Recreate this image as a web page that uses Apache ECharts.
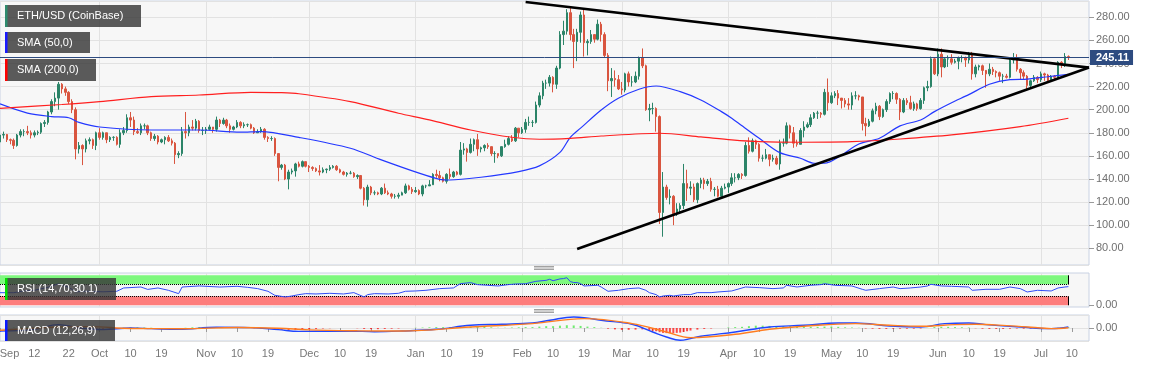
<!DOCTYPE html>
<html><head><meta charset="utf-8">
<script src="https://cdn.jsdelivr.net/npm/echarts@6.0.0/dist/echarts.min.js"></script>
<style>html,body{margin:0;padding:0;background:#fff;}#c{width:1153px;height:367px;}</style>
</head><body><div id="c"></div>
<script>
// ---------- axis domain ----------
const firstDay = '2019-09-02', lastAxisDay = '2020-07-15';
const categories = (function(){const out=[];let t=Date.parse(firstDay+'T00:00:00Z');const e=Date.parse(lastAxisDay+'T00:00:00Z');while(t<=e){out.push(new Date(t).toISOString().slice(0,10));t+=86400000;}return out;})();

const xTickDates = ['2019-09-02','2019-09-12','2019-09-22','2019-10-01','2019-10-10','2019-10-19','2019-11-01','2019-11-10','2019-11-19','2019-12-01','2019-12-10','2019-12-19','2020-01-01','2020-01-10','2020-01-19','2020-02-01','2020-02-10','2020-02-19','2020-03-01','2020-03-10','2020-03-19','2020-04-01','2020-04-10','2020-04-19','2020-05-01','2020-05-10','2020-05-19','2020-06-01','2020-06-10','2020-06-19','2020-07-01','2020-07-10'];
const xTickLabels = ['Sep','12','22','Oct','10','19','Nov','10','19','Dec','10','19','Jan','10','19','Feb','10','19','Mar','10','19','Apr','10','19','May','10','19','Jun','10','19','Jul','10'];
const lastPrice = 245.11;

// ---------- daily candles [open, close, low, high] ----------
const sep19 = [[172,178,171,179],[178,178.5,175,181],[178.5,174,172,179],[174,173.5,170,175],[173.5,169,166,175],[169,178,168,179],[178,181,176,183],[181,181,177,183],[181,180,178,186],[180,178,175,182],[178,180,176,182],[180,180.5,178,182],[180.5,188,179,189],[188,189,185,191],[189,198,187,199],[198,207,196,209],[207,210,203,215],[210,222,200,224],[222,218,214,223],[218,215,212,220],[215,207,205,216],[207,200,197,209],[200,166,157,202],[166,169,162,172],[169,166,152,170],[166,173,163,175],[173,174,170,176],[174,169,166,175],[169,180,165,181]];
const oct19 = [[180,176,174,184],[176,180,174,181],[180,174,171,180],[174,176,172,177],[176,176,173,177],[176,170,169,177],[170,180,167,183],[180,182,178,185],[182,193,180,196],[193,191,185,198],[191,181,178,194],[181,180,179,184],[180,186,178,188],[186,186,183,188],[186,180,178,187],[180,175,173,181],[175,177,173,179],[177,172,170,178],[172,174,171,175],[174,176,170,177],[176,173,172,178],[173,171,169,175],[171,161,153,172],[161,162,158,164],[162,181,160,185],[181,180,175,198],[180,185,177,187],[185,184,182,191],[184,190,182,192],[190,182,180,191],[182,182,178,185]];
const nov19 = [[182,183,179,185],[183,185,182,187],[185,183,180,185],[183,191,181,194],[191,188,185,192],[188,191,187,193],[191,186,184,192],[186,183,180,188],[183,185,182,186],[185,189,184,191],[189,186,184,190],[186,187,184,189],[187,187,185,188],[187,184,183,188],[184,180,179,185],[180,181,180,183],[181,183,180,185],[183,176,174,184],[176,175,172,177],[175,175,173,177],[175,162,160,176],[162,150,138,162],[150,152,148,153],[152,140,139,153],[140,146,131,148],[146,147,144,149],[147,153,142,154],[153,151,150,155],[151,155,150,156],[155,151,150,155]];
const dec19 = [[151,150,146,152],[150,149,147,151],[149,147,146,150],[147,146,143,152],[146,148,145,150],[148,148.5,145,149],[148.5,150,147,152],[150,151,149,152],[151,148,147,152],[148,146,145,149],[146,144,143,147],[144,145,142,146],[145,145,144,147],[145,142,141,146],[142,143,140,144],[143,132,131,143],[132,122,117,133],[122,133,116,135],[133,128,126,134],[128,128,126,130],[128,127,126,129],[127,132,126,133],[132,128,127,136],[128,127,126,130],[127,125,123,128],[125,125,123,127],[125,126,123,128],[126,128,126,129],[128,134,127,136],[134,131,130,135],[131,129,127,133]];
const jan20 = [[129,130,128,133],[130,127,126,131],[127,134,125,135],[134,134,132,135],[134,135,134,139],[135,144,135,145],[144,143,141,148],[143,141,138,147],[141,138,137,142],[138,144,136,145],[144,142,140,149],[142,146,141,147],[146,144,143,147],[144,165,143,172],[165,166,161,171],[166,163,155,167],[163,170,162,175],[170,174,164,175],[174,166,160,179],[166,167,163,168],[167,169,164,170],[169,168,166,171],[168,162,160,168],[162,162,154,164],[162,160,158,162],[160,168,159,168],[168,170,167,174],[170,175,169,177],[175,173,172,178],[173,184,172,185],[184,180,176,184]];
const feb20 = [[180,183,179,185],[183,189,180,192],[189,189,186,194],[189,189,185,191],[189,204,188,207],[204,212,202,215],[212,223,209,225],[223,223,218,226],[223,228,220,230],[228,222,215,229],[222,236,218,238],[236,265,235,268],[265,268,256,277],[268,284,265,287],[284,265,260,288],[265,259,236,270],[259,267,242,270],[267,282,258,285],[282,258,246,287],[258,259,247,261],[259,265,257,269],[265,261,258,265],[261,274,260,278],[274,265,259,276],[265,247,245,267],[247,225,216,249],[225,227,211,236],[227,226,220,234],[226,218,217,230]];
const mar20 = [[218,217,213,224],[217,231,215,232],[231,224,220,233],[224,224,220,229],[224,229,223,233],[229,245,226,246],[245,238,236,253],[238,200,199,239],[200,201,190,205],[201,201,196,206],[201,194,181,202],[194,111,101,195],[111,133,90,146],[133,124,122,135],[124,125,118,131],[125,110,100,126],[110,114,108,119],[114,117,110,119],[117,136,114,153],[136,132,121,148],[132,133,126,138],[133,122,120,136],[122,136,119,137],[136,139,132,141],[139,136,131,141],[136,138,134,140],[138,131,129,141],[131,131,125,133],[131,125,124,134],[125,132,124,134],[132,133,131,136]];
const apr20 = [[133,136,128,137],[136,141,134,145],[141,141,137,145],[141,144,139,145],[144,143,140,145],[143,169,142,172],[169,164,162,176],[164,173,163,175],[173,170,166,174],[170,158,155,171],[158,158,155,161],[158,161,157,166],[161,157,151,161],[157,158,155,161],[158,153,152,160],[153,171,148,174],[171,171,168,175],[171,186,170,189],[186,180,175,187],[180,171,167,185],[171,170,168,174],[170,182,170,184],[182,185,176,190],[185,187,184,189],[187,193,185,196],[193,197,192,198],[197,197,192,199],[197,196,193,198],[196,215,195,218],[215,206,199,227]];
const may20 = [[206,212,205,215],[212,214,210,216],[214,210,204,217],[210,208,201,210],[208,205,202,210],[205,204,200,210],[204,212,200,215],[212,212,209,216],[212,211,208,213],[211,188,182,211],[188,186,177,193],[186,190,185,192],[190,199,189,201],[199,203,196,206],[203,194,191,204],[194,200,193,201],[200,207,198,209],[207,214,205,215],[214,214,209,216],[214,209,205,215],[209,198,191,210],[198,208,197,210],[208,206,204,210],[206,201,200,212],[201,205,199,207],[205,201,199,206],[201,208,200,210],[208,219,205,220],[219,220,216,225],[220,244,219,246],[244,231,230,245]];
const jun20 = [[231,248,229,253],[248,237,228,253],[237,244,236,245],[244,244,237,247],[244,241,239,248],[241,242,240,244],[242,245,235,246],[245,245,241,247],[245,243,237,246],[243,248,240,250],[248,231,226,250],[231,237,228,239],[237,238,234,239],[238,234,230,239],[234,231,219,233],[231,235,229,240],[235,233,230,237],[233,232,228,234],[232,229,225,233],[229,229,223,231],[229,228,227,231],[228,243,227,244],[243,244,240,249],[244,235,233,248],[235,232,226,236],[232,229,226,234],[229,221,218,230],[221,225,218,226],[225,228,224,230],[228,226,223,229]];
const jul20 = [[226,231,224,233],[231,230,225,232],[230,225,224,231],[225,229,224,230],[229,228,225,230],[228,241,227,242],[241,239,236,242],[239,246,237,249],[246,245.11,243,247]];

// ---------- moving averages ----------
const sma50 = [['2019-09-02',205],['2019-09-10',197],['2019-09-17',194],['2019-09-22',193],['2019-09-25',189],['2019-10-01',185],['2019-10-16',182.4],['2019-10-30',182.4],['2019-11-11',180.5],['2019-11-17',181],['2019-11-28',176],['2019-12-13',166.6],['2019-12-22',156.5],['2020-01-02',145],['2020-01-08',139.7],['2020-01-11',139.1],['2020-01-20',141.5],['2020-01-31',146.4],['2020-02-06',151.3],['2020-02-12',163],['2020-02-15',176],['2020-02-18',184],['2020-02-24',199.7],['2020-02-29',209.9],['2020-03-06',217.7],['2020-03-11',220.5],['2020-03-18',215.6],['2020-03-24',208.4],['2020-03-30',198.3],['2020-04-02',192.6],['2020-04-05',186],['2020-04-10',175.2],['2020-04-16',162.8],['2020-04-22',157.9],['2020-04-26',153.6],['2020-04-29',153.6],['2020-05-04',160.7],['2020-05-09',170.3],['2020-05-15',175.2],['2020-05-21',186],['2020-05-27',191.1],['2020-05-31',198.3],['2020-06-05',206],['2020-06-10',213],['2020-06-16',222],['2020-06-22',226],['2020-06-27',226.5],['2020-07-03',228.5],['2020-07-09',230.6]];
const sma200 = [['2019-09-02',201.2],['2019-09-20',204.5],['2019-10-01',207],['2019-10-16',211.3],['2019-10-30',212.7],['2019-11-14',215],['2019-11-23',214.7],['2019-11-28',213.8],['2019-12-13',207],['2019-12-27',196.9],['2020-01-05',191.1],['2020-01-17',182.4],['2020-01-29',176.1],['2020-02-06',174.4],['2020-02-15',175.2],['2020-02-24',177.2],['2020-03-12',179.6],['2020-03-24',176.4],['2020-04-02',173.8],['2020-04-10',172.3],['2020-04-22',171.8],['2020-05-07',172.3],['2020-05-21',174.6],['2020-06-05',178.1],['2020-06-25',185.3],['2020-07-09',192.6]];

// ---------- trend lines ----------
const upperTrend = [['2020-02-02',293.2],['2020-07-15',236.4]];
const lowerTrend = [['2020-02-17',79.4],['2020-07-15',236.5]];

// ---------- RSI ----------
const rsiLevels = {top:100, upper:70, lower:30, bottom:0};
const rsi = [['2019-09-02',42],['2019-09-06',42],['2019-09-09',48],['2019-09-12',50],['2019-09-16',60],['2019-09-19',72],['2019-09-22',60],['2019-09-24',45],['2019-09-27',47],['2019-10-02',45],['2019-10-06',46.7],['2019-10-08',57.8],['2019-10-13',61],['2019-10-15',53],['2019-10-18',57.8],['2019-10-21',50],['2019-10-24',38.9],['2019-10-25',61],['2019-10-30',64.4],['2019-11-05',61],['2019-11-10',63.3],['2019-11-13',60],['2019-11-16',55.6],['2019-11-19',46.7],['2019-11-21',33.3],['2019-11-24',27.8],['2019-11-26',31],['2019-11-28',35.6],['2019-11-30',38.9],['2019-12-03',37.8],['2019-12-07',40],['2019-12-11',37.8],['2019-12-14',42.2],['2019-12-17',27.8],['2019-12-18',35.6],['2019-12-20',38.9],['2019-12-24',37.8],['2019-12-27',40],['2019-12-29',46.7],['2020-01-01',47.8],['2020-01-04',50],['2020-01-08',55.6],['2020-01-12',57.8],['2020-01-14',72.2],['2020-01-17',75.6],['2020-01-19',68.9],['2020-01-22',66.7],['2020-01-25',64.4],['2020-01-28',68.9],['2020-01-30',71],['2020-02-02',72],['2020-02-05',80],['2020-02-08',83.3],['2020-02-09',86.7],['2020-02-10',82],['2020-02-12',88],['2020-02-13',89],['2020-02-14',92],['2020-02-15',79],['2020-02-16',76],['2020-02-17',75.6],['2020-02-18',72.2],['2020-02-19',64.4],['2020-02-23',66.7],['2020-02-24',61],['2020-02-26',46.7],['2020-02-29',50],['2020-03-03',55.6],['2020-03-06',57.8],['2020-03-08',50],['2020-03-09',42.2],['2020-03-11',35.6],['2020-03-12',27.8],['2020-03-13',31],['2020-03-15',33.3],['2020-03-16',31],['2020-03-19',35.6],['2020-03-21',35.6],['2020-03-23',42.2],['2020-03-27',42.2],['2020-03-29',44.4],['2020-04-02',47.8],['2020-04-06',61],['2020-04-10',58.9],['2020-04-14',55.6],['2020-04-17',57.8],['2020-04-18',66.7],['2020-04-21',61],['2020-04-25',66.7],['2020-04-28',68.9],['2020-04-29',72.2],['2020-05-02',66.7],['2020-05-07',64.4],['2020-05-10',53.3],['2020-05-11',50],['2020-05-15',55.6],['2020-05-19',61],['2020-05-21',55.6],['2020-05-24',57.8],['2020-05-27',61],['2020-05-29',64.4],['2020-05-30',70],['2020-06-02',64.4],['2020-06-05',63.3],['2020-06-10',61],['2020-06-11',50],['2020-06-15',53.3],['2020-06-19',53.3],['2020-06-22',61],['2020-06-25',55.6],['2020-06-27',44.4],['2020-06-30',50],['2020-07-04',47.8],['2020-07-06',57.8],['2020-07-08',61],['2020-07-09',62.2]];

// ---------- MACD (12,26,9) ----------
const macdLine = [['2019-09-02',-6.5],['2019-09-12',-2.8],['2019-09-19',7.3],['2019-09-25',0.5],['2019-10-02',-3.5],['2019-10-10',0],['2019-10-16',-1.4],['2019-10-24',-3],['2019-11-04',1.5],['2019-11-14',0.8],['2019-11-22',-3.5],['2019-11-28',-7.2],['2019-12-13',-6.5],['2019-12-20',-8],['2019-12-28',-6.5],['2020-01-07',-2.8],['2020-01-17',5.8],['2020-01-26',8],['2020-02-04',10.8],['2020-02-09',16.6],['2020-02-16',23.7],['2020-02-19',22.4],['2020-02-24',16.6],['2020-03-04',8],['2020-03-10',-8.6],['2020-03-14',-19.4],['2020-03-18',-26.5],['2020-03-21',-22.8],['2020-03-24',-17.9],['2020-04-03',-8.6],['2020-04-13',2.2],['2020-04-23',5.8],['2020-05-03',10.8],['2020-05-08',10.8],['2020-05-18',4.3],['2020-05-27',2.2],['2020-06-03',9.5],['2020-06-10',10.8],['2020-06-15',7.3],['2020-06-25',2.2],['2020-07-04',-1.4],['2020-07-09',2.2]];
const signalLine = [['2019-09-02',-5],['2019-09-19',2],['2019-09-28',3],['2019-10-10',-1],['2019-10-25',-1.5],['2019-11-10',1],['2019-11-22',-0.5],['2019-12-01',-4],['2019-12-15',-6],['2019-12-28',-6.5],['2020-01-17',2.2],['2020-02-04',9.5],['2020-02-19',20.3],['2020-03-04',9.5],['2020-03-14',-8.6],['2020-03-21',-20.7],['2020-04-03',-13.6],['2020-04-13',-2.8],['2020-04-23',3.7],['2020-05-08',9.5],['2020-05-18',5.8],['2020-05-27',3.7],['2020-06-06',7.3],['2020-06-12',8],['2020-06-21',5.1],['2020-07-01',0],['2020-07-04',-1.4],['2020-07-09',0.6]];
const macdHist = [['2019-09-04',1],['2019-09-06',1],['2019-09-08',1.5],['2019-09-10',2],['2019-09-12',2],['2019-09-14',3],['2019-09-16',3.5],['2019-09-18',4],['2019-09-20',4],['2019-09-22',2],['2019-09-24',-1],['2019-09-26',-2],['2019-09-28',-2.5],['2019-09-30',-2],['2019-10-02',-1.5],['2019-10-04',-1],['2019-10-06',-0.5],['2019-10-08',0.5],['2019-10-10',1.5],['2019-10-12',1.5],['2019-10-14',1],['2019-10-16',0.5],['2019-10-18',-0.5],['2019-10-20',-1],['2019-10-22',-1],['2019-10-24',-1.5],['2019-10-26',0.5],['2019-10-28',1.5],['2019-10-30',2],['2019-11-01',2],['2019-11-03',2],['2019-11-05',2],['2019-11-07',1.5],['2019-11-09',1],['2019-11-11',0.5],['2019-11-15',-0.5],['2019-11-17',-1],['2019-11-19',-1.5],['2019-11-21',-2.5],['2019-11-23',-4],['2019-11-25',-5],['2019-11-27',-4.5],['2019-11-29',-3.5],['2019-12-01',-2.5],['2019-12-03',-2],['2019-12-05',-1],['2019-12-07',-0.5],['2019-12-15',-0.5],['2019-12-17',-2],['2019-12-19',-2.5],['2019-12-21',-2.5],['2019-12-23',-2],['2019-12-25',-1.5],['2019-12-27',-1],['2020-01-01',0.5],['2020-01-03',1],['2020-01-05',1.5],['2020-01-07',2],['2020-01-09',2],['2020-01-11',2],['2020-01-13',2],['2020-01-15',3],['2020-01-17',3],['2020-01-19',3],['2020-01-21',2.5],['2020-01-23',1.5],['2020-01-25',0.5],['2020-01-27',0.5],['2020-01-29',1],['2020-01-31',1.5],['2020-02-02',2],['2020-02-04',2],['2020-02-06',3],['2020-02-08',4],['2020-02-10',4],['2020-02-12',5],['2020-02-14',6],['2020-02-16',5.5],['2020-02-18',4.5],['2020-02-20',3],['2020-02-22',2],['2020-02-24',0.5],['2020-02-26',-1.5],['2020-02-28',-3],['2020-03-01',-4],['2020-03-03',-4],['2020-03-05',-3.5],['2020-03-07',-3],['2020-03-09',-5],['2020-03-10',-6],['2020-03-11',-7],['2020-03-12',-9],['2020-03-13',-10.5],['2020-03-14',-11],['2020-03-15',-11],['2020-03-16',-11],['2020-03-17',-10.5],['2020-03-18',-10],['2020-03-19',-8.5],['2020-03-20',-7],['2020-03-21',-5.5],['2020-03-23',-3.5],['2020-03-25',-2],['2020-03-27',-1],['2020-04-01',1],['2020-04-03',2],['2020-04-05',2.5],['2020-04-07',4],['2020-04-09',5],['2020-04-11',5],['2020-04-13',4.5],['2020-04-15',4],['2020-04-17',4],['2020-04-19',4],['2020-04-21',3],['2020-04-23',2.5],['2020-04-25',2.5],['2020-04-27',2.5],['2020-04-29',3],['2020-05-01',3],['2020-05-03',2.5],['2020-05-05',1.5],['2020-05-07',1],['2020-05-09',0.5],['2020-05-11',-1],['2020-05-13',-1.5],['2020-05-15',-2],['2020-05-17',-2],['2020-05-19',-1.5],['2020-05-21',-1.5],['2020-05-23',-1.5],['2020-05-25',-1.5],['2020-05-27',-1],['2020-05-29',0.5],['2020-05-31',2],['2020-06-02',2.5],['2020-06-04',2.5],['2020-06-06',2],['2020-06-08',1.5],['2020-06-10',1],['2020-06-12',-0.5],['2020-06-14',-1.5],['2020-06-16',-2],['2020-06-18',-2],['2020-06-20',-2],['2020-06-22',-1.5],['2020-06-24',-1],['2020-06-26',-1.5],['2020-06-28',-1.5],['2020-06-30',-1],['2020-07-02',-0.5],['2020-07-06',0.5],['2020-07-08',1],['2020-07-09',1.5]];

// ---------- build ----------
const candles = [].concat(sep19,oct19,nov19,dec19,jan20,feb20,mar20,apr20,may20,jun20,jul20);
const lastCandleDay = categories[candles.length-1];
const tickSet = new Set(xTickDates);
const labelOf = {}; xTickDates.forEach((d,i)=>labelOf[d]=xTickLabels[i]);
const isTick = (i,v)=>tickSet.has(v);
const isMonthStart = (i,v)=>v.slice(8)==='01';

const UP='#2b8468', DOWN='#d9553f';
const FONT='"Liberation Sans", Arial, sans-serif';
const gridBase = {left:0, right:64, show:true, backgroundColor:'#f7f7f7', borderColor:'#c9d2e3', borderWidth:1, containLabel:false, outerBoundsMode:'none'};

function xAx(i){
  return {type:'category', gridIndex:i, data:categories, boundaryGap:false,
    axisLine:{show:false},
    axisTick: i===2 ? {show:true, interval:isTick, length:4, lineStyle:{color:'#9a9a9a'}} : {show:false},
    axisLabel: i===2 ? {show:true, interval:isTick, margin:7, color:'#777', fontSize:11, fontFamily:FONT,
        formatter:(v)=> v===firstDay ? '{s|'+labelOf[v]+'}' : (labelOf[v]||''),
        rich:{s:{padding:[0,0,0,19], color:'#777', fontSize:11, fontFamily:FONT}}} : {show:false},
    splitLine:{show:true, interval:isMonthStart, lineStyle:{color:'#e2e2e2', width:1}}};
}
function yAx(i, min, max, step, split){
  return {type:'value', gridIndex:i, position:'right', min, max, minInterval:step, maxInterval:step, splitNumber:split, scale:true,
    axisLine:{show:false}, axisTick:{show:true, length:5, lineStyle:{color:'#9a9a9a'}},
    axisLabel:{show:true, showMinLabel:false, showMaxLabel:false, margin:7, color:'#707070', fontSize:11, fontFamily:FONT, formatter:v=>v.toFixed(2)},
    splitLine:{show:true, lineStyle:{color:'#e2e2e2', width:1}}};
}

function legendBox(x,y,w,h,bar,text){
  return {type:'group', x, y, z:100, children:[
    {type:'rect', z:100, shape:{x:0,y:0,width:w,height:h}, style:{fill:'rgba(55,55,55,0.82)'}},
    {type:'rect', z:101, shape:{x:0,y:0,width:2.5,height:h}, style:{fill:bar}},
    {type:'text', z:102, x:12, y:h/2, style:{text, fill:'#ffffff', font:'11px '+FONT, verticalAlign:'middle', textVerticalAlign:'middle'}}
  ]};
}
function handle(x,y){
  return {type:'group', x, y, z:100, children:[0,1.5,3].map(d=>({type:'line', z:100, shape:{x1:0,y1:d,x2:20,y2:d}, style:{stroke:'#8a8a8a', lineWidth:0.8}}))};
}

const option = {
  animation:false,
  backgroundColor:'#ffffff',
  textStyle:{fontFamily:FONT},
  grid:[Object.assign({top:1, height:264}, gridBase), Object.assign({top:273, height:34}, gridBase), Object.assign({top:315, height:26}, gridBase)],
  xAxis:[xAx(0), xAx(1), xAx(2)],
  yAxis:[yAx(0,65.5,294.1,20,11), Object.assign(yAx(1,-5.7,107.7,200,1),{splitLine:{show:false}}), yAx(2,-28,28,200,1)],
  series:[
    {type:'candlestick', name:'ETH/USD', xAxisIndex:0, yAxisIndex:0, data:candles, barWidth:2,
      itemStyle:{color:UP, color0:DOWN, borderColor:UP, borderColor0:DOWN, borderWidth:1},
      markLine:{silent:true, symbol:['none','none'], animation:false,
        lineStyle:{color:'#2d4b80', width:1, type:'solid'},
        label:{show:true, position:'end', distance:1, formatter:()=>lastPrice.toFixed(2), backgroundColor:'#2d4b80', color:'#fff', fontWeight:'bold', fontSize:11, fontFamily:FONT, padding:[2,4,2,6]},
        data:[{yAxis:lastPrice}]}},
    {type:'line', name:'SMA50', xAxisIndex:0, yAxisIndex:0, data:sma50, smooth:0.3, showSymbol:false, lineStyle:{color:'#2438ff', width:1.2}, z:3},
    {type:'line', name:'SMA200', xAxisIndex:0, yAxisIndex:0, data:sma200, smooth:0.3, showSymbol:false, lineStyle:{color:'#ff2020', width:1.2}, z:3},
    {type:'line', name:'upper', xAxisIndex:0, yAxisIndex:0, data:upperTrend, showSymbol:false, lineStyle:{color:'#000', width:2.6}, z:4},
    {type:'line', name:'lower', xAxisIndex:0, yAxisIndex:0, data:lowerTrend, showSymbol:false, lineStyle:{color:'#000', width:2.6}, z:4},
    {type:'line', name:'rsiBands', xAxisIndex:1, yAxisIndex:1, data:[], z:1,
      markArea:{silent:true, data:[
        [{xAxis:firstDay, yAxis:rsiLevels.upper, itemStyle:{color:'#7ef87e'}},{xAxis:lastCandleDay, yAxis:rsiLevels.top}],
        [{xAxis:firstDay, yAxis:rsiLevels.bottom, itemStyle:{color:'#fd7d7d'}},{xAxis:lastCandleDay, yAxis:rsiLevels.lower}]
      ]},
      markLine:{silent:true, symbol:['none','none'], label:{show:false}, lineStyle:{color:'#000', width:1, type:'dotted'}, data:[
        [{coord:[firstDay,rsiLevels.upper]},{coord:[lastCandleDay,rsiLevels.upper]}],
        [{coord:[firstDay,rsiLevels.lower]},{coord:[lastCandleDay,rsiLevels.lower]}],
        [{coord:[lastCandleDay,rsiLevels.upper], lineStyle:{type:'solid'}},{coord:[lastCandleDay,rsiLevels.top]}],
        [{coord:[lastCandleDay,rsiLevels.bottom], lineStyle:{type:'solid'}},{coord:[lastCandleDay,rsiLevels.lower]}]
      ]}},
    {type:'line', name:'RSI', xAxisIndex:1, yAxisIndex:1, data:rsi, showSymbol:false, lineStyle:{color:'#2f4cf5', width:1}, z:5},
    {type:'bar', name:'hist', xAxisIndex:2, yAxisIndex:2, data:macdHist, barWidth:2,
      itemStyle:{color:(p)=> p.value[1]>=0 ? 'rgba(0,225,0,0.55)' : 'rgba(255,0,0,0.7)'}},
    {type:'line', name:'MACD', xAxisIndex:2, yAxisIndex:2, data:macdLine, smooth:0.4, showSymbol:false, lineStyle:{color:'#1f45ff', width:1.4}, z:4},
    {type:'line', name:'Signal', xAxisIndex:2, yAxisIndex:2, data:signalLine, smooth:0.4, showSymbol:false, lineStyle:{color:'#ff7d20', width:1.4}, z:4}
  ],
  graphic:[
    legendBox(5,5,136,22,'#2e8b6e','ETH/USD (CoinBase)'),
    legendBox(5,32,85,21,'#1a1aff','SMA (50,0)'),
    legendBox(5,59,91,22,'#ff0000','SMA (200,0)'),
    legendBox(5,278,111,22,'#00e000','RSI (14,70,30,1)'),
    legendBox(5,320,110,21,'#0a1aff','MACD (12,26,9)'),
    handle(534,266.5), handle(534,309.5)
  ]
};
const chart = echarts.init(document.getElementById('c'), null, {renderer:'canvas', devicePixelRatio:1});
chart.setOption(option);
</script></body></html>
